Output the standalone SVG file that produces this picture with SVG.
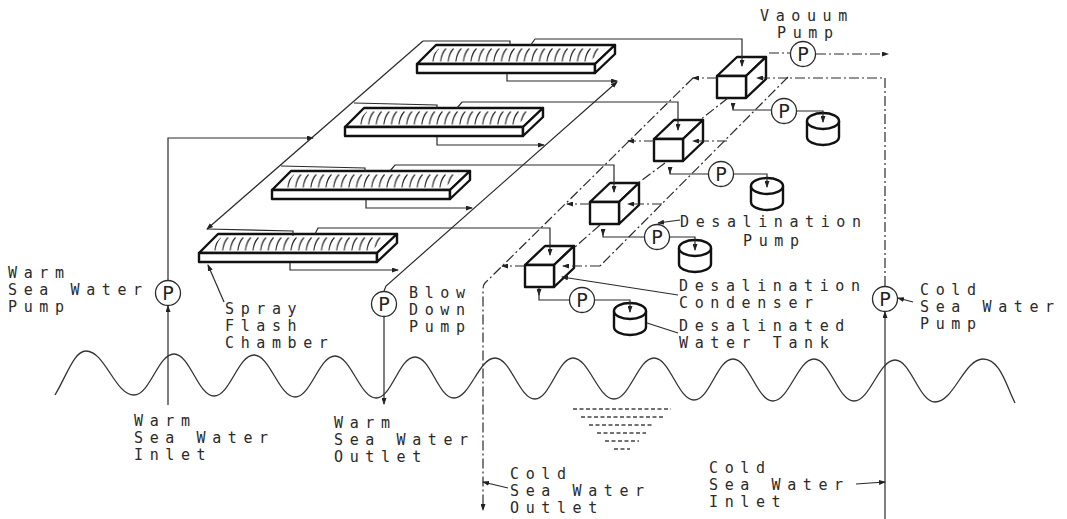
<svg xmlns="http://www.w3.org/2000/svg" width="1067" height="519" viewBox="0 0 1067 519">
<style>
.t{font-family:"DejaVu Sans Mono",monospace;font-size:15px;letter-spacing:6.6px;fill:#2a2a2a}
.pl{font-family:"DejaVu Sans",sans-serif;font-size:19px;fill:#222;text-anchor:middle}
.l{fill:none;stroke:#2a2a2a;stroke-width:1.2}
.d{fill:none;stroke:#2a2a2a;stroke-width:1.2;stroke-dasharray:10 3 2 3}
.a{marker-end:url(#arr)}
.c{fill:#fff;stroke:#2a2a2a;stroke-width:1.3}
.k{fill:#fff;stroke:#111;stroke-width:2.4;stroke-linejoin:round}
.w{fill:none;stroke:#333;stroke-width:1.3}
</style>
<defs>
<marker id="arr" markerUnits="userSpaceOnUse" markerWidth="7" markerHeight="5" refX="6" refY="2.5" orient="auto"><path d="M0 0L7 2.5L0 5Z" fill="#222"/></marker>
<pattern id="hatch" patternUnits="userSpaceOnUse" x="0" y="-16" width="7.6" height="14"><path d="M0.8 13.5Q1.8 5 6.2 0.5" fill="none" stroke="#222" stroke-width="1.1"/></pattern>
<g id="chamber">
<path class="k" d="M0 0L19 -19H198L178 0Z"/>
<path d="M10 -2L22 -16H188L172 -2Z" fill="url(#hatch)"/>
<path class="k" d="M0 0H178V9H0Z"/>
<path class="k" d="M178 0L198 -19V-10L178 9Z"/>
</g>
<g id="box">
<path class="k" d="M0 0L20 -19H49L29 0Z"/>
<path class="k" d="M29 0L49 -19V3L29 22Z"/>
<rect class="k" x="0" y="0" width="29" height="22"/>
</g>
<g id="tank">
<path class="k" d="M-16 -4V12A16 8 0 0 0 16 12V-4"/>
<ellipse class="k" cx="0" cy="-4" rx="16" ry="8"/>
</g>
<g id="pump">
<circle class="c" cx="0" cy="0" r="12.5"/>
<text class="pl" x="0" y="7">P</text>
</g>
</defs>
<rect width="1067" height="519" fill="#fff"/>
<g id="sea">
<path class="w" d="M55 395C67 375 74 351 86 351C105 351 115 395 134 395C150 395 158 354 174 354C190 354 198 396 214 396C230 396 238 355 254 355C270 355 279 397 295 397C311 397 319 356 335 356C351 356 360 398 376 398C392 398 399 357 415 357C431 357 438 398 454 398C470 398 479 358 495 358C511 358 519 399 535 399C550 399 558 358 573 358C589 358 598 399 614 399C630 399 638 358 654 358C670 358 678 400 694 400C710 400 717 359 733 359C749 359 757 401 773 401C789 401 798 359 814 359C830 359 838 401 854 401C870 401 879 360 895 360C911 360 919 402 935 402C954 402 964 359 983 359C1000 359 1006 385 1015 403"/>
<path d="M573 409H671M581 417H663M589 425H654M597 433H646M605 441H639M614 449H630" fill="none" stroke="#444" stroke-width="1.3" stroke-dasharray="4 2.5"/>
</g>
<g id="spray-chamber-1"><use href="#chamber" x="199" y="253"/></g>
<g id="spray-chamber-2"><use href="#chamber" x="272" y="190"/></g>
<g id="spray-chamber-3"><use href="#chamber" x="345" y="127"/></g>
<g id="spray-chamber-4"><use href="#chamber" x="417" y="64"/></g>
<g id="condenser-1"><use href="#box" x="525" y="265"/></g>
<g id="condenser-2"><use href="#box" x="590" y="202"/></g>
<g id="condenser-3"><use href="#box" x="654" y="139"/></g>
<g id="condenser-4"><use href="#box" x="717" y="76"/></g>
<g id="tank-1"><use href="#tank" x="630" y="315"/></g>
<g id="tank-2"><use href="#tank" x="695" y="252"/></g>
<g id="tank-3"><use href="#tank" x="767" y="190"/></g>
<g id="tank-4"><use href="#tank" x="823" y="125"/></g>
<g id="connectors">
<path class="l a" d="M168 280V138H313"/>
<path class="l a" d="M168 405V306"/>
<path class="l a" d="M423 41L207 229"/>
<path class="l" d="M423 41H510V46"/>
<path class="l" d="M354 103L437 105V109"/>
<path class="l" d="M281 166L365 168V172"/>
<path class="l" d="M207 229L293 231V236"/>
<path class="l a" d="M384 291L386 286L617 82"/>
<path class="l a" d="M384 317V404"/>
<path class="l a" d="M290 263V270H398"/>
<path class="l a" d="M366 200V208H472"/>
<path class="l a" d="M437 137V145H544"/>
<path class="l a" d="M507 74V81H617"/>
<path class="l a" d="M315 234L318 228H550V255"/>
<path class="l a" d="M390 171L395 165H614V192"/>
<path class="l a" d="M457 108L462 102H678V130"/>
<path class="l a" d="M530 46L535 39H742V66"/>
<path class="d" d="M885 286V78H788"/>
<path class="d" d="M788 77L600 266"/>
<path class="d a" d="M600 266H563"/>
<path class="d a" d="M727 141H693"/>
<path class="d a" d="M662 204H628"/>
<path class="d a" d="M788 78H757"/>
<path class="d a" d="M717 78H693"/>
<path class="d a" d="M654 141H628"/>
<path class="d a" d="M590 204H567"/>
<path class="d a" d="M525 266H502"/>
<path class="d a" d="M693 78L485 283Q483 285 483 290V510"/>
<path class="d" d="M728 98L700 120M665 163L638 183M600 225L575 247"/>
<path class="l a" d="M885 519V312"/>
<path class="d a" d="M769 53H790M816 54H888"/>
<path class="l a" d="M539 288V295"/>
<path class="l a" d="M539 290V300H569M595 300H630V312"/>
<path class="l a" d="M603 230V235"/>
<path class="l a" d="M603 231V237H644M670 237H695V250"/>
<path class="l a" d="M670 168V173"/>
<path class="l a" d="M670 169V174H708M734 174H767V187"/>
<path class="l a" d="M733 104V109"/>
<path class="l a" d="M733 105V110H771M797 111H823V122"/>
<path class="l a" d="M680 220L658 223"/>
<path class="l a" d="M678 295L562 277"/>
<path class="l" d="M678 333L647 323"/>
<path class="l a" d="M224 302L208 265"/>
<path class="l a" d="M508 488L483 482"/>
<path class="l a" d="M856 484L885 482"/>
<path class="l a" d="M913 302L898 298"/>
</g>
<g id="pump-warm"><use href="#pump" x="168" y="293"/></g>
<g id="pump-blow"><use href="#pump" x="384" y="304"/></g>
<g id="pump-cold"><use href="#pump" x="885" y="299"/></g>
<g id="pump-vacuum"><use href="#pump" x="803" y="54"/></g>
<g id="pump-d1"><use href="#pump" x="582" y="300"/></g>
<g id="pump-d2"><use href="#pump" x="657" y="237"/></g>
<g id="pump-d3"><use href="#pump" x="721" y="174"/></g>
<g id="pump-d4"><use href="#pump" x="784" y="111"/></g>
<g id="labels">
<text class="t" x="8" y="278">Warm</text><text class="t" x="8" y="295">Sea Water</text><text class="t" x="8" y="312">Pump</text>
<text class="t" x="225" y="314">Spray</text><text class="t" x="225" y="331">Flash</text><text class="t" x="225" y="348">Chamber</text>
<text class="t" x="409" y="298">Blow</text><text class="t" x="409" y="315">Down</text><text class="t" x="409" y="332">Pump</text>
<text class="t" x="134" y="426">Warm</text><text class="t" x="134" y="443">Sea Water</text><text class="t" x="134" y="460">Inlet</text>
<text class="t" x="334" y="428">Warm</text><text class="t" x="334" y="445">Sea Water</text><text class="t" x="334" y="462">Outlet</text>
<text class="t" x="510" y="479">Cold</text><text class="t" x="510" y="496">Sea Water</text><text class="t" x="510" y="513">Outlet</text>
<text class="t" x="709" y="473">Cold</text><text class="t" x="709" y="490">Sea Water</text><text class="t" x="709" y="507">Inlet</text>
<text class="t" x="920" y="295">Cold</text><text class="t" x="920" y="312">Sea Water</text><text class="t" x="920" y="329">Pump</text>
<text class="t" x="680" y="227">Desalination</text><text class="t" x="743" y="246">Pump</text>
<text class="t" x="679" y="291">Desalination</text><text class="t" x="679" y="308">Condenser</text>
<text class="t" x="679" y="331">Desalinated</text><text class="t" x="679" y="348">Water Tank</text>
<text class="t" x="760" y="21">Vaouum</text><text class="t" x="777" y="38">Pump</text>
</g>
</svg>
